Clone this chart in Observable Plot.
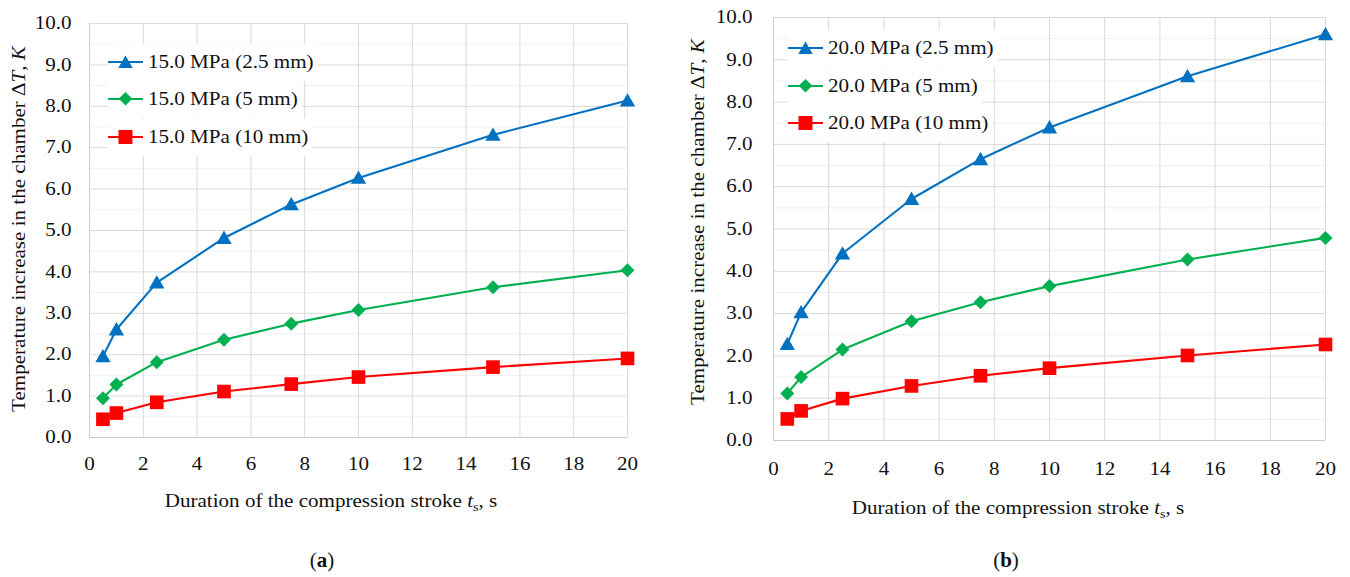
<!DOCTYPE html>
<html><head><meta charset="utf-8">
<script src="https://cdn.jsdelivr.net/npm/d3@7"></script>
<script src="https://cdn.jsdelivr.net/npm/@observablehq/plot@0.6"></script>
<style>
body{margin:0;background:#fff;}
#root{position:relative;width:1350px;height:577px;overflow:hidden;font-family:"Liberation Serif","Times New Roman",serif;color:#111;}
.pt{position:absolute;width:0;height:0;}
.rot{position:absolute;left:0;top:0;white-space:nowrap;font-size:18px;line-height:18px;transform-origin:0 0;transform:rotate(-90deg) scaleX(1.17) translate(-50%,-50%);}
.xt{position:absolute;left:0;top:0;white-space:nowrap;font-size:18px;line-height:18px;transform-origin:0 0;transform:scaleX(1.17) translate(-50%,0);}
.cap{position:absolute;left:0;top:0;white-space:nowrap;font-size:21px;line-height:21px;transform:translate(-50%,0);}
.row{position:absolute;display:flex;align-items:center;background:#fff;font-size:18px;white-space:nowrap;}
.row span{display:inline-block;transform-origin:0 50%;transform:scaleX(1.17);margin-left:5px;}
sub{font-size:12px;vertical-align:-4px;line-height:0;}
</style></head><body><div id="root"></div>
<script>
// ---- data ----
const durations = [0.5, 1, 2.5, 5, 7.5, 10, 15, 20];
const a_2_5mm = [1.96, 2.61, 3.74, 4.82, 5.63, 6.27, 7.31, 8.14];
const a_5mm   = [0.95, 1.28, 1.82, 2.36, 2.75, 3.08, 3.63, 4.04];
const a_10mm  = [0.44, 0.59, 0.85, 1.11, 1.29, 1.46, 1.70, 1.91];
const b_2_5mm = [2.28, 3.03, 4.42, 5.71, 6.65, 7.40, 8.61, 9.60];
const b_5mm   = [1.11, 1.50, 2.15, 2.82, 3.27, 3.65, 4.28, 4.79];
const b_10mm  = [0.51, 0.70, 0.99, 1.29, 1.53, 1.71, 2.01, 2.27];
const namesA = ["15.0 MPa (2.5 mm)", "15.0 MPa (5 mm)", "15.0 MPa (10 mm)"];
const namesB = ["20.0 MPa (2.5 mm)", "20.0 MPa (5 mm)", "20.0 MPa (10 mm)"];
const xTicks = [0, 2, 4, 6, 8, 10, 12, 14, 16, 18, 20];
const yTicks = [0, 1, 2, 3, 4, 5, 6, 7, 8, 9, 10];
const yMinor = [0.5, 1.5, 2.5, 3.5, 4.5, 5.5, 6.5, 7.5, 8.5, 9.5];
const colors = ["#0070C0", "#00B050", "#FF0000"];
const symbols = ["triangle", "diamond2", "square"];
const radii = [5.7, 6.3, 7.7];

const root = document.getElementById("root");

function stretchTicks(svg) {
  svg.querySelectorAll('g[aria-label$="tick label"] text').forEach(t => {
    const tr = t.getAttribute("transform");
    if (tr) t.setAttribute("transform", tr + " scale(1.17,1)");
    else {
      const x = +(t.getAttribute("x") || 0), y = +(t.getAttribute("y") || 0);
      t.removeAttribute("x"); t.removeAttribute("y");
      t.setAttribute("transform", `translate(${x},${y}) scale(1.17,1)`);
    }
  });
}

function panel(o) {
  const marks = [
    Plot.ruleY(yMinor, {stroke: "#f1f1f1", strokeWidth: 1}),
    Plot.ruleY(yTicks, {stroke: "#d9d9d9", strokeWidth: 1}),
    Plot.ruleX(xTicks, {stroke: "#d9d9d9", strokeWidth: 1}),
    Plot.ruleY([0], {stroke: "#c8c8c8", strokeWidth: 1}),
    Plot.ruleX([0], {stroke: "#d0d0d0", strokeWidth: 1})
  ];
  o.series.forEach((vals, k) => {
    const d = durations.map((x, i) => ({x, y: vals[i]}));
    marks.push(Plot.line(d, {x: "x", y: "y", stroke: colors[k], strokeWidth: 2.1}));
    marks.push(Plot.dot(d, {x: "x", y: "y", symbol: symbols[k], fill: colors[k], stroke: "none", r: radii[k], dy: k === 0 ? 1.5 : 0}));
  });
  const svg = Plot.plot({
    width: o.width, height: 480,
    marginLeft: o.ml, marginRight: o.mr, marginTop: o.mt, marginBottom: o.mb,
    x: {domain: [0, 20], ticks: xTicks, tickSize: 0, tickPadding: o.xpad, label: null},
    y: {domain: [0, 10], ticks: yTicks, tickSize: 0, tickPadding: o.ypad, label: null, tickFormat: d => d.toFixed(1)},
    style: {fontFamily: '"Liberation Serif","Times New Roman",serif', fontSize: "18px", color: "#111", background: "transparent", overflow: "visible"},
    marks
  });
  stretchTicks(svg);
  svg.style.position = "absolute";
  svg.style.left = o.left + "px";
  svg.style.top = "0px";
  root.appendChild(svg);

  // legend
  o.names.forEach((name, k) => {
    const row = document.createElement("div");
    row.className = "row";
    row.style.left = o.legX + "px";
    row.style.top = (o.legY[k] - 18.5) + "px";
    row.style.height = "37px";
    const c = colors[k];
    let m;
    if (k === 0) m = `<polygon points="17.5,0.5 10.3,13 24.7,13" fill="${c}"/>`;
    else if (k === 1) m = `<polygon points="17.5,0 24.3,6.8 17.5,13.6 10.7,6.8" fill="${c}"/>`;
    else m = `<rect x="10.5" y="0" width="14" height="14" fill="${c}"/>`;
    row.innerHTML = `<svg width="35" height="14" style="display:block"><line x1="0" x2="35" y1="7" y2="7" stroke="${c}" stroke-width="2.1"/>${m}</svg><span>${name}</span>`;
    root.appendChild(row);
    const sp = row.querySelector("span");
    sp.style.marginRight = (sp.offsetWidth * 0.17 + 4) + "px";
  });

  // y title
  const yp = document.createElement("div");
  yp.className = "pt"; yp.style.left = o.ytx + "px"; yp.style.top = o.yty + "px";
  yp.innerHTML = `<div class="rot">Temperature increase in the chamber Δ<i>T</i>, <i>K</i></div>`;
  root.appendChild(yp);
  // x title
  const xp = document.createElement("div");
  xp.className = "pt"; xp.style.left = o.xtx + "px"; xp.style.top = o.xty + "px";
  xp.innerHTML = `<div class="xt">Duration of the compression stroke <i>t</i><sub>s</sub>, s</div>`;
  root.appendChild(xp);
  // caption
  const cp = document.createElement("div");
  cp.className = "pt"; cp.style.left = o.capx + "px"; cp.style.top = "550px";
  cp.innerHTML = `<div class="cap">(<b>${o.cap}</b>)</div>`;
  root.appendChild(cp);
}

panel({left: 0, width: 660, ml: 89, mr: 33, mt: 23, mb: 43, xpad: 20, ypad: 18,
  series: [a_2_5mm, a_5mm, a_10mm], names: namesA,
  legX: 108, legY: [62, 99, 137], ytx: 19, yty: 229, xtx: 331, xty: 492, capx: 322, cap: "a"});
panel({left: 680, width: 670, ml: 93, mr: 25, mt: 17, mb: 40, xpad: 22, ypad: 21,
  series: [b_2_5mm, b_5mm, b_10mm], names: namesB,
  legX: 788, legY: [48, 86, 123], ytx: 698, yty: 222, xtx: 1018, xty: 499, capx: 1006, cap: "b"});
</script></body></html>
